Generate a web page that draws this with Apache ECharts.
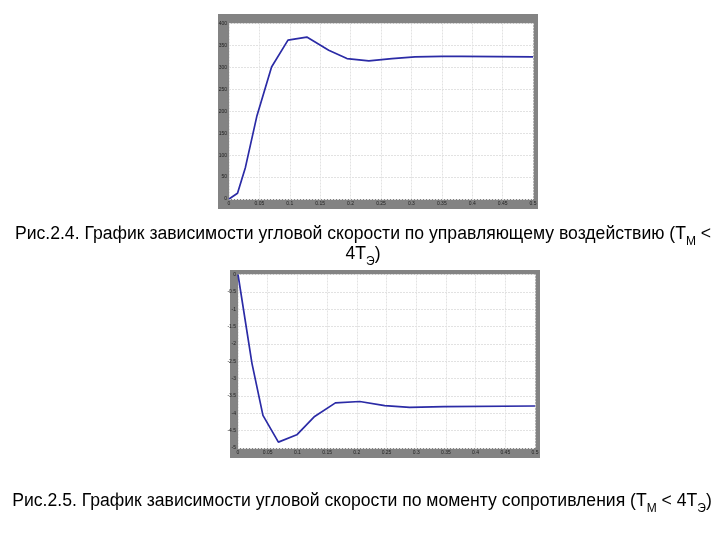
<!DOCTYPE html>
<html>
<head>
<meta charset="utf-8">
<script src="https://cdn.jsdelivr.net/npm/echarts@6/dist/echarts.min.js"></script>
<style>html,body{margin:0;padding:0;background:#fff;}#c{width:720px;height:540px;}</style>
</head>
<body>
<div id="c"></div>
<script>
// Chart 1: angular speed vs control input
var t1 = [0, 0.014, 0.027, 0.046, 0.07, 0.097, 0.128, 0.164, 0.194, 0.23, 0.268, 0.306, 0.35, 0.383, 0.5];
var w1 = [0, 13, 72, 190, 301, 362, 369, 339, 320, 315, 320, 324, 325, 325, 324];
// Chart 2: angular speed vs load torque
var t2 = [0, 0.0235, 0.042, 0.068, 0.099, 0.129, 0.164, 0.205, 0.247, 0.289, 0.347, 0.5];
var w2 = [0, -2.56, -4.06, -4.83, -4.62, -4.09, -3.70, -3.66, -3.78, -3.83, -3.81, -3.79];

var caption1a = 'Рис.2.4. График зависимости угловой скорости по управляющему воздействию (Т';
var caption1b = 'М';
var caption1c = ' <';
var caption1d = '4Т';
var caption1e = 'Э';
var caption1f = ')';
var caption2a = 'Рис.2.5. График зависимости угловой скорости по моменту сопротивления (Т';
var caption2b = 'М';
var caption2c = ' < 4Т';
var caption2d = 'Э';
var caption2e = ')';

var chart = echarts.init(document.getElementById('c'), null, {renderer: 'canvas'});

function axisX(idx) {
  return {
    type: 'value', gridIndex: idx, min: 0, max: 0.5, interval: 0.05,
    axisLine: {show: false}, axisTick: {show: false},
    axisLabel: {fontSize: 5, color: '#222', margin: 2, fontFamily: 'Liberation Sans'},
    splitLine: {show: true, lineStyle: {color: '#e2e2e2', width: 1, type: [2, 1]}}
  };
}
function axisY(idx, mn, mx, iv) {
  return {
    type: 'value', gridIndex: idx, min: mn, max: mx, interval: iv,
    axisLine: {show: false}, axisTick: {show: false},
    axisLabel: {fontSize: 5, color: '#222', margin: 2, fontFamily: 'Liberation Sans'},
    splitLine: {show: true, lineStyle: {color: '#e2e2e2', width: 1, type: [2, 1]}}
  };
}

var FONT = 'Liberation Sans';
var mainStyle = {fontSize: 17.6, fontFamily: FONT, color: '#000', lineHeight: 20};
var subStyle = {fontSize: 12, fontFamily: FONT, color: '#000', lineHeight: 4, padding: [16, 0, 0, 0]};

chart.setOption({
  animation: false,
  backgroundColor: '#fff',
  grid: [
    {left: 229, top: 23.5, right: 187, bottom: 341, show: true, backgroundColor: '#fff', borderWidth: 0},
    {left: 238, top: 274.5, right: 185, bottom: 92, show: true, backgroundColor: '#fff', borderWidth: 0}
  ],
  xAxis: [axisX(0), axisX(1)],
  yAxis: [axisY(0, 0, 400, 50), axisY(1, -5, 0, 0.5)],
  series: [
    {type: 'line', xAxisIndex: 0, yAxisIndex: 0, data: t1.map(function (t, i) { return [t, w1[i]]; }),
     showSymbol: false, lineStyle: {color: '#2b2ba6', width: 1.7}},
    {type: 'line', xAxisIndex: 1, yAxisIndex: 1, data: t2.map(function (t, i) { return [t, w2[i]]; }),
     showSymbol: false, lineStyle: {color: '#2b2ba6', width: 1.7}}
  ],
  graphic: {elements: [
    {type: 'rect', z: -10, shape: {x: 218, y: 14, width: 320, height: 195}, style: {fill: '#838383'}},
    {type: 'rect', z: -10, shape: {x: 230, y: 270, width: 310, height: 188}, style: {fill: '#838383'}},
    {type: 'text', z: 10, x: 363, y: 224, style: {
      text: '{m|' + caption1a + '}{s|' + caption1b + '}{m|' + caption1c + '}\n{m|' + caption1d + '}{s|' + caption1e + '}{m|' + caption1f + '}',
      align: 'center', verticalAlign: 'top',
      rich: {m: mainStyle, s: subStyle}
    }},
    {type: 'text', z: 10, x: 362, y: 491, style: {
      text: '{m|' + caption2a + '}{s|' + caption2b + '}{m|' + caption2c + '}{s|' + caption2d + '}{m|' + caption2e + '}',
      align: 'center', verticalAlign: 'top',
      rich: {m: mainStyle, s: subStyle}
    }}
  ]}
});
</script>
</body>
</html>
